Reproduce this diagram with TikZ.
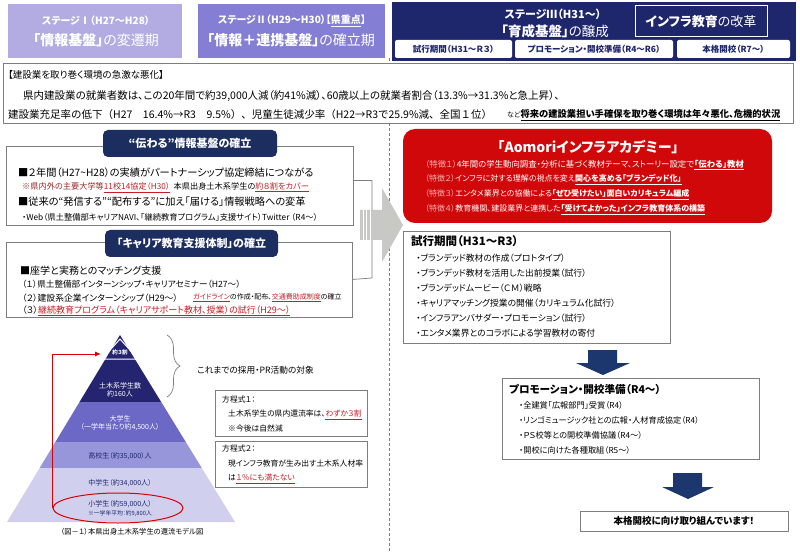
\documentclass[tikz,border=0pt]{standalone}
\usepackage{fontspec}
\setmainfont{Noto Sans CJK JP}[RawFeature=+palt]
\usetikzlibrary{positioning,arrows.meta,shapes.geometric,decorations.pathreplacing}
\definecolor{stageA}{RGB}{178,172,226}
\definecolor{stageB}{RGB}{132,126,212}
\definecolor{stageC}{RGB}{30,38,108}
\definecolor{titlenavy}{RGB}{28,45,95}
\definecolor{arrownavy}{RGB}{28,55,110}
\definecolor{academyred}{RGB}{208,8,10}
\definecolor{ulred}{RGB}{196,30,40}
\definecolor{darkred}{RGB}{150,40,40}
\definecolor{framegray}{RGB}{125,125,125}
\definecolor{arrowgray}{RGB}{200,200,196}
\definecolor{pinkish}{RGB}{246,176,176}
\definecolor{pyrA}{RGB}{36,36,112}
\definecolor{pyrB}{RGB}{108,104,198}
\definecolor{pyrC}{RGB}{152,150,218}
\definecolor{pyrD}{RGB}{208,208,238}
\newcommand{\fsz}[1]{\fontsize{#1}{#1}\selectfont}
\newcommand{\redu}[1]{\textcolor{ulred}{\underline{#1}}}
\begin{document}
\begin{tikzpicture}[x=1pt,y=-1pt,
  txt/.style={anchor=west,inner sep=0pt},
  ctxt/.style={inner sep=0pt},
  panel/.style={draw=framegray,fill=white,line width=.7pt,inner sep=0pt,outer sep=0pt},
  header/.style={inner sep=0pt,outer sep=0pt},
  tab/.style={fill=white,rounded corners=2pt,inner sep=0pt,text=stageC,font=\bfseries\fsz{8.5}},
  navytitle/.style={fill=titlenavy,rounded corners=5pt,inner sep=0pt,text=white,font=\bfseries\fsz{11}}]
\useasboundingbox[fill=white] (0,0) rectangle (800,553);
\draw[framegray,dash pattern=on 3pt off 2pt,line width=.8pt] (389,58) -- (389,553);

\node[header,fill=stageA,minimum width=174pt,minimum height=54pt] (stage1) at (95,31) {};
\node[ctxt,text=white,font=\bfseries\fsz{10}] (stage1a) at (96,21) {ステージⅠ（H27～H28）};
\node[ctxt,text=white,font=\fsz{14}] (stage1b) at (96,40) {\textbf{「情報基盤」}の変遷期};
\node[header,fill=stageB,minimum width=187pt,minimum height=54pt] (stage2) at (291.5,31) {};
\node[ctxt,text=white,font=\bfseries\fsz{10}] (stage2a) at (292,21) {ステージⅡ（H29～H30）【\underline{県重点}】};
\node[ctxt,text=white,font=\fsz{14}] (stage2b) at (291,40) {\textbf{「情報＋連携基盤」}の確立期};
\node[header,fill=stageC,minimum width=404pt,minimum height=59pt] (stage3) at (594,31.5) {};
\node[ctxt,text=white,font=\bfseries\fsz{11}] (stage3a) at (553,14) {ステージⅢ（H31～）};
\node[ctxt,text=white,font=\fsz{13.5}] (stage3b) at (555,31) {\textbf{「育成基盤」}の醸成};
\node[header,draw=white,line width=1pt,minimum width=132pt,minimum height=31pt,text=white,font=\fsz{13}] (reform) at (701,21.5) {\textbf{インフラ教育}の改革};
\node[tab,minimum width=117pt,minimum height=18pt] (tab1) at (453.5,49) {試行期間（H31～Ｒ３）};
\node[tab,minimum width=158pt,minimum height=18pt] (tab2) at (594,49) {プロモーション・開校準備（R4～R6）};
\node[tab,minimum width=113pt,minimum height=18pt] (tab3) at (733.5,49) {本格開校（R7～）};

\node[panel,minimum width=790pt,minimum height=60pt] (issue) at (398,93) {};
\node[txt,font=\fsz{9.5}] (issue1) at (8,75) {【建設業を取り巻く環境の急激な悪化】};
\node[txt,font=\fsz{10.5}] (issue2) at (23,96) {県内建設業の就業者数は、この20年間で約39,000人減（約41\%減）、60歳以上の就業者割合（13.3\%→31.3\%と急上昇）、};
\node[txt,font=\fsz{10.5}\addfontfeature{RawFeature=-palt}] (issue3) at (8,115) {建設業充足率の低下（H27　16.4\%→R3　9.5\%）、児童生徒減少率（H22→R3で25.9\%減、全国１位）};
\node[txt,font=\fsz{7}] (issue4) at (507,115) {など\fsz{9.3}\textbf{\underline{将来の建設業担い手確保を取り巻く環境は年々悪化、危機的状況}}};

\node[panel,minimum width=347pt,minimum height=79pt] (info) at (179.5,185.5) {};
\node[navytitle,minimum width=174pt,minimum height=27pt] (infotitle) at (190,143.5) {“伝わる”情報基盤の確立};
\node[txt,font=\fsz{10.2}] (info1) at (18,173) {■２年間（H27\textasciitilde H28）の実績がパートナーシップ協定締結につながる};
\node[txt,font=\fsz{8.2}] (info2) at (22,187.5) {\textcolor{darkred}{※県内外の主要大学等}\redu{11校14協定（H30）}\ \ 本県出身土木系学生の\redu{約８割をカバー}};
\node[txt,font=\fsz{10.2}] (info3) at (18,201.5) {■従来の“発信する”“配布する”に加え「届ける」情報戦略への変革};
\node[txt,font=\fsz{8.3}] (info4) at (22,217) {・Web（県土整備部キャリアNAVI、「継続教育プログラム」支援サイト）Twitter （R4～）};

\node[panel,minimum width=346pt,minimum height=75pt] (career) at (179,279.5) {};
\node[navytitle,minimum width=173pt,minimum height=27pt] (careertitle) at (191.5,243.5) {「キャリア教育支援体制」の確立};
\node[txt,font=\fsz{10}] (career1) at (20,271) {■座学と実務とのマッチング支援};
\node[txt,font=\fsz{8.6}] (career2) at (22,284.5) {（１）県土整備部インターンシップ・キャリアセミナー（H27～）};
\node[txt,font=\fsz{8.8}] (career3) at (22,298) {（２）建設系企業インターンシップ（H29～）};
\node[txt,font=\fsz{7}] (career3b) at (193,298) {\redu{ガイドライン}の作成・配布、\redu{交通費助成制度}の確立};
\node[txt,font=\fsz{9}] (career4) at (22,311) {（３）\redu{継続教育プログラム（キャリアサポート教材、授業）の試行（H29～）}};

\draw[framegray,line width=.7pt] ([yshift=5pt]info.east) -| (372,278) -- (career.east);
\fill[arrowgray] (360,210) -- (382,210) -- (382,188) -- (403,225) -- (382,262) -- (382,240) -- (360,240) -- cycle;
\foreach \sx in {363,366.5,370}
  \draw[white,line width=.8pt] (\sx,210) -- (\sx,240);

\begin{scope}
\clip (7,522) -- (120,335) -- (235,522) -- cycle;
\fill[pyrA] (0,330) rectangle (250,402);
\fill[pyrB] (0,402) rectangle (250,442);
\fill[pyrC] (0,442) rectangle (250,468);
\fill[pyrD] (0,468) rectangle (250,523);
\end{scope}
\draw[white,line width=1pt] (120,339) -- (138,359) -- (102,359) -- cycle;
\node[ctxt,text=white,font=\bfseries\fsz{5.5}] (share) at (120,352) {約３割};
\node[ctxt,text=white,font=\fsz{7},align=center] (civil) at (120,390) {土木系学生数\\[1pt]約160人};
\node[ctxt,text=white,font=\fsz{7},align=center] (univ) at (120,423) {大学生\\[1pt]（一学年当たり約4,500人）};
\node[ctxt,text=stageC,font=\fsz{7}] (high) at (120,456) {高校生（約35,000）人};
\node[ctxt,text=stageC,font=\fsz{7}] (junior) at (120,483) {中学生（約34,000人）};
\node[ctxt,text=stageC,font=\fsz{7}] (elem) at (120,504) {小学生（約59,000人）};
\node[ctxt,text=stageC,font=\fsz{5.8}] (elemnote) at (120,513.5) {※一学年平均：約9,800人};
\node[draw=red!85!black,line width=1pt,ellipse,minimum width=130pt,minimum height=30pt] (ring) at (118,508) {};
\coordinate (apexin) at (101,354);
\draw[red!85!black,line width=1pt,-{Latex[length=6pt,width=5pt]}] (ring.west) |- (apexin);
\draw[framegray,line width=.7pt,decorate,decoration={brace,amplitude=13pt}] (167,335) -- (167,397);
\node[txt,font=\fsz{8.7}] (target) at (197,370) {これまでの採用・PR活動の対象};
\node[panel,minimum width=152pt,minimum height=46pt] (eq1) at (291,413) {};
\node[txt,font=\fsz{7.8}] (eq1a) at (222,400) {方程式１：};
\node[txt,font=\fsz{7.8}] (eq1b) at (228,415) {土木系学生の県内還流率は、\redu{わずか３割}};
\node[txt,font=\fsz{7.8}] (eq1c) at (228,429) {※今後は自然減};
\node[panel,minimum width=152pt,minimum height=46pt] (eq2) at (291,464) {};
\node[txt,font=\fsz{7.8}] (eq2a) at (222,449) {方程式２：};
\node[txt,font=\fsz{7.8}] (eq2b) at (228,464) {現インフラ教育が生み出す土木系人材率};
\node[txt,font=\fsz{7.8}] (eq2c) at (228,479) {は\redu{１％にも満たない}};
\node[ctxt,font=\fsz{7.3}] (caption) at (132,532) {（図－１）本県出身土木系学生の還流モデル図};

\node[header,fill=academyred,rounded corners=12pt,minimum width=369pt,minimum height=94pt] (academy) at (587.5,176) {};
\node[ctxt,text=white,font=\bfseries\fsz{14}] (academyname) at (588,147) {「Aomoriインフラアカデミー」};
\node[txt,text=white,font=\fsz{8.4}] (feat1) at (425,165) {\textcolor{pinkish}{（特徴１）}4年間の学生動向調査・分析に基づく教材テーマ、ストーリー設定で\textbf{\underline{「伝わる」教材}}};
\node[txt,text=white,font=\fsz{8}] (feat2) at (425,179.5) {\textcolor{pinkish}{（特徴２）}インフラに対する理解の視点を変え\textbf{\underline{関心を高める「ブランデッド化」}}};
\node[txt,text=white,font=\fsz{8}] (feat3) at (425,194.5) {\textcolor{pinkish}{（特徴３）}エンタメ業界との協働による\textbf{\underline{「ぜひ受けたい」面白いカリキュラム編成}}};
\node[txt,text=white,font=\fsz{8}] (feat4) at (425,209.5) {\textcolor{pinkish}{（特徴４）}教育機関、建設業界と連携した\textbf{\underline{「受けてよかった」インフラ教育体系の構築}}};

\node[panel,minimum width=267pt,minimum height=112pt] (trial) at (536.5,287) {};
\node[txt,font=\bfseries\fsz{11.5}] (trialtitle) at (411,241) {試行期間（H31～R3）};
\foreach \item [count=\k] in {ブランデッド教材の作成（プロトタイプ）,ブランデッド教材を活用した出前授業（試行）,ブランデッドムービー（ＣＭ）戦略,キャリアマッチング授業の開催（カリキュラム化試行）,インフラアンバサダー・プロモーション（試行）,エンタメ業界とのコラボによる学習教材の寄付}
  \node[txt,font=\fsz{8.8}] (trial\k) at (416,243+15*\k) {・\item};

\fill[arrownavy] (588,350) -- (617,350) -- (617,363) -- (630,363) -- (603,375) -- (576,363) -- (588,363) -- cycle;
\node[panel,minimum width=257pt,minimum height=81pt] (promo) at (630.5,418.5) {};
\node[txt,font=\bfseries\fsz{10.6}] (promotitle) at (509,389) {プロモーション・開校準備（R4～）};
\foreach \item [count=\k] in {全建賞「広報部門」受賞（R4）,リンゴミュージック社との広報・人材育成協定（R4）,ＰＳ校等との開校準備協議（R4～）,開校に向けた各種取組（R5～）}
  \node[txt,font=\fsz{8.2}] (promo\k) at (519,390+15*\k) {・\item};

\fill[arrownavy] (673,473) -- (702,473) -- (702,487) -- (714,487) -- (688,499) -- (662,487) -- (673,487) -- cycle;
\node[panel,minimum width=208pt,minimum height=20pt,font=\bfseries\fsz{9.5}] (opening) at (684,521) {本格開校に向け取り組んでいます！};
\end{tikzpicture}
\end{document}
